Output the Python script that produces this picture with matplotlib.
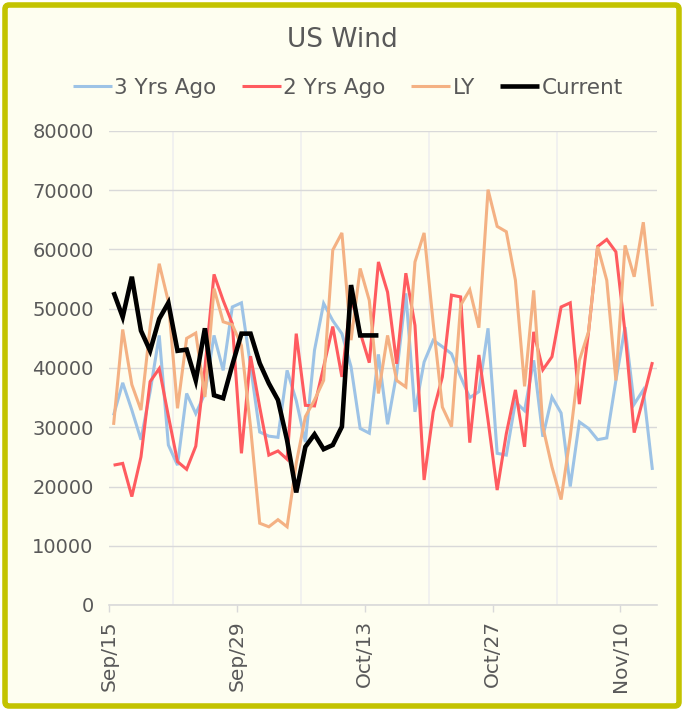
import matplotlib
matplotlib.use("Agg")
import matplotlib.pyplot as plt
from matplotlib.patches import FancyBboxPatch
import numpy as np

plt.rcParams['font.family'] = ['DejaVu Sans']

title = "US Wind"
tick_labels = ["Sep/15", "Sep/29", "Oct/13", "Oct/27", "Nov/10"]
n_days = 60

yrs3_ago = [32000, 37500, 32900, 27900, 36000, 45500, 27000, 23600, 35700, 32300,
            35700, 45500, 39600, 50300, 51000, 40300, 29200, 28500, 28300, 39600,
            34500, 27500, 43000, 50900, 48000, 45800, 40200, 29800, 29000, 42300,
            30500, 39100, 52600, 32600, 41000, 44700, 43600, 42400, 38500, 35000,
            36000, 46700, 25600, 25300, 34300, 32800, 41300, 28400, 35100, 32400,
            20000, 30900, 29800, 27900, 28200, 37900, 46900, 33900, 36300, 22800]
yrs2_ago = [23600, 23900, 18300, 25000, 37700, 39900, 31900, 24200, 22900, 26800,
            40000, 55800, 51400, 47500, 25600, 42000, 33400, 25300, 26000, 24600,
            45800, 33700, 33600, 40200, 47000, 38500, 52000, 46000, 40900, 57900,
            52800, 40700, 56000, 47200, 21100, 32600, 38500, 52300, 52000, 27400,
            42200, 31200, 19400, 28900, 36300, 26700, 46100, 39700, 41900, 50300,
            51000, 33900, 46000, 60500, 61700, 59600, 46000, 29100, 34900, 41000]
last_year = [30400, 46500, 37200, 32900, 46900, 57600, 51200, 33200, 45000, 45900,
             35100, 53400, 47800, 47300, 43800, 30000, 13800, 13200, 14400, 13200,
             23900, 31800, 34600, 37900, 59900, 62800, 44700, 56800, 51400, 35700,
             45500, 37900, 36800, 57900, 62800, 47500, 33400, 30100, 50600, 53200,
             46800, 70100, 63900, 63000, 54800, 36900, 53100, 30100, 23300, 17800,
             28400, 41300, 46100, 60500, 54800, 37900, 60700, 55400, 64600, 50400]
current = [52800, 48600, 55400, 46300, 42900, 48300, 51000, 42900, 43100, 37900,
           46700, 35400, 34900, 40500, 45800, 45800, 40800, 37400, 34600, 27800,
           19000, 26700, 28800, 26300, 27000, 30100, 54000, 45500, 45500, 45500]

series = [("3 Yrs Ago", yrs3_ago, "#9DC3E6", 2.2),
          ("2 Yrs Ago", yrs2_ago, "#FF5B5F", 2.2),
          ("LY", last_year, "#F4B183", 2.2),
          ("Current", current, "#000000", 3.3)]

W, H = 684, 711
fig = plt.figure(figsize=(W / 100, H / 100), dpi=100)
fig.patch.set_facecolor("white")
bg = "#FEFEF0"
border = FancyBboxPatch((5 / W, 5 / H), 1 - 10 / W, 1 - 10 / H,
                        boxstyle="round,pad=0,rounding_size=0.006",
                        transform=fig.transFigure, facecolor=bg,
                        edgecolor="#C3C300", linewidth=4.0, zorder=-10)
fig.patches.append(border)

ax = fig.add_axes([109 / W, 1 - 605 / H, (657 - 109) / W, (605 - 131) / H])
ax.set_facecolor(bg)

for name, vals, col, lw in series:
    x = np.arange(len(vals)) + 0.5
    ax.plot(x, vals, color=col, lw=lw, label=name, solid_joinstyle="miter",
            solid_capstyle="butt")

ax.set_xlim(0, n_days)
ax.set_ylim(0, 80000)
ax.set_yticks(np.arange(0, 80001, 10000))
ax.set_xticks(np.arange(0, n_days, 14))
ax.set_xticklabels(tick_labels, rotation=90)
ax.set_xticks(np.arange(0, n_days + 1, 7), minor=True)
ax.grid(axis="y", which="major", color="#D9D9D9", lw=1.0)
ax.grid(axis="x", which="minor", color="#EFEFEF", lw=1.2)
ax.set_axisbelow(True)
for s in ["top", "right", "left"]:
    ax.spines[s].set_visible(False)
ax.spines["bottom"].set_color("#D9D9D9")
ax.spines["bottom"].set_linewidth(1.2)
ax.tick_params(axis="y", length=0, pad=11, labelsize=14, labelcolor="#595959")
ax.tick_params(axis="x", which="major", length=5, width=1.0, color="#D9D9D9",
               pad=6, labelsize=14.5, labelcolor="#595959")
ax.tick_params(axis="x", which="minor", length=0)

fig.text(0.5, 1 - 40 / H, title, ha="center", va="center", fontsize=19,
         color="#595959")
leg = fig.legend(loc="center", bbox_to_anchor=(348 / W, 1 - 88 / H), ncol=4,
                 frameon=False, fontsize=15.5, handlelength=1.8, handletextpad=0.1,
                 columnspacing=1.2, labelcolor="#595959")

fig.savefig("out.png", dpi=100, facecolor=fig.get_facecolor())
